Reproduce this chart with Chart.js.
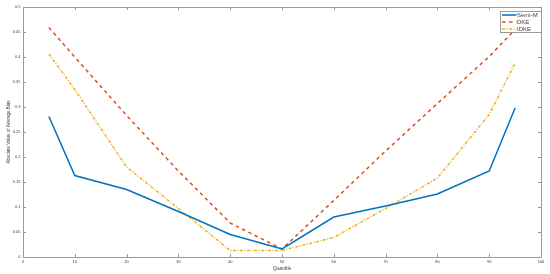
<!DOCTYPE html>
<html>
<head>
<meta charset="utf-8">
<script src="https://cdn.jsdelivr.net/npm/chart.js@4"></script>
<style>
html,body{margin:0;padding:0;background:#fff;}
#wrap{width:550px;height:274px;position:relative;}
</style>
</head>
<body>
<div id="wrap"><canvas id="c" width="550" height="274"></canvas></div>
<script>
const quantiles = [5, 10, 20, 30, 40, 50, 60, 70, 80, 90, 95];
const semiM = [0.281, 0.163, 0.135, 0.091, 0.045, 0.016, 0.080, 0.102, 0.126, 0.172, 0.298];
const dke   = [0.459, 0.400, 0.283, 0.172, 0.068, 0.016, 0.113, 0.212, 0.307, 0.401, 0.455];
const idke  = [0.406, 0.335, 0.180, 0.097, 0.013, 0.013, 0.039, 0.097, 0.158, 0.285, 0.388];
const seriesNames = ['Semi-M', 'DKE', 'IDKE'];
const xTickValues = [0, 10, 20, 30, 40, 50, 60, 70, 80, 90, 100];
const yTickValues = [0, 0.05, 0.1, 0.15, 0.2, 0.25, 0.3, 0.35, 0.4, 0.45, 0.5];

const FONT = 'Liberation Sans, Arial, sans-serif';
const TEXT = '#404040';
const FRAME = '#9a9a9a';

function pts(arr){ return quantiles.map((q,i)=>({x:q, y:arr[i]})); }

const framePlugin = {
  id: 'frame',
  afterDatasetsDraw(chart){
    const {ctx, chartArea:a, scales:{x, y}} = chart;
    ctx.save();
    ctx.strokeStyle = FRAME;
    ctx.lineWidth = 1;
    ctx.beginPath();
    ctx.rect(Math.round(a.left)+0.5, Math.round(a.top)+0.5, Math.round(a.right-a.left), Math.round(a.bottom-a.top));
    ctx.stroke();
    const tl = 3;
    ctx.beginPath();
    xTickValues.forEach(v=>{
      const px = Math.round(x.getPixelForValue(v))+0.5;
      ctx.moveTo(px, a.bottom); ctx.lineTo(px, a.bottom-tl);
      ctx.moveTo(px, a.top); ctx.lineTo(px, a.top+tl);
    });
    yTickValues.forEach(v=>{
      const py = Math.round(y.getPixelForValue(v))+0.5;
      ctx.moveTo(a.left, py); ctx.lineTo(a.left+tl, py);
      ctx.moveTo(a.right, py); ctx.lineTo(a.right-tl, py);
    });
    ctx.stroke();
    ctx.restore();
  },
  afterDraw(chart){
    const {ctx, chartArea:a} = chart;
    const w = 41, h = 21;
    const x0 = Math.round(a.right - w) + 0.5, y0 = Math.round(a.top + 4) + 0.5;
    ctx.save();
    ctx.fillStyle = '#fff';
    ctx.fillRect(x0, y0, w, h);
    ctx.strokeStyle = FRAME;
    ctx.lineWidth = 1;
    ctx.strokeRect(x0, y0, w, h);
    ctx.font = '6px ' + FONT;
    ctx.textBaseline = 'middle';
    chart.data.datasets.forEach((ds, i)=>{
      const cy = y0 + 3.5 + i*7;
      ctx.strokeStyle = ds.borderColor;
      ctx.lineWidth = ds.borderWidth;
      ctx.setLineDash(ds.borderDash || []);
      ctx.beginPath();
      ctx.moveTo(x0+1.5, cy); ctx.lineTo(x0+16, cy);
      ctx.stroke();
      ctx.setLineDash([]);
      ctx.fillStyle = TEXT;
      ctx.fillText(ds.label, x0+16.5, cy);
    });
    ctx.restore();
  }
};

new Chart(document.getElementById('c'), {
  type: 'line',
  data: {
    datasets: [
      {label: seriesNames[0], data: pts(semiM), borderColor: '#0072BD', borderWidth: 1.5, pointRadius: 0, tension: 0, fill: false},
      {label: seriesNames[1], data: pts(dke), borderColor: '#D95319', borderWidth: 1.5, borderDash: [3.5, 3.5], pointRadius: 0, tension: 0, fill: false},
      {label: seriesNames[2], data: pts(idke), borderColor: '#EDB120', borderWidth: 1.5, borderDash: [3, 1.5, 1, 1.5], pointRadius: 0, tension: 0, fill: false}
    ]
  },
  plugins: [framePlugin],
  options: {
    responsive: false,
    animation: false,
    devicePixelRatio: 1,
    layout: {padding: {top: 7, right: 9, left: 0, bottom: 0}},
    plugins: {legend: {display: false}, tooltip: {enabled: false}},
    scales: {
      x: {
        type: 'linear', min: 0, max: 100,
        afterBuildTicks: s => { s.ticks = xTickValues.map(v=>({value:v})); },
        afterFit: s => { s.height = 17; },
        grid: {display: false, drawTicks: false},
        border: {display: false},
        ticks: {font: {size: 4, family: FONT}, color: TEXT, padding: 2, maxRotation: 0, autoSkip: false},
        title: {display: true, text: 'Quantile', font: {size: 5, family: FONT}, color: TEXT, padding: {top: 0, bottom: 2}}
      },
      y: {
        type: 'linear', min: 0, max: 0.5,
        afterBuildTicks: s => { s.ticks = yTickValues.map(v=>({value:v})); },
        afterFit: s => { s.width = 23; },
        grid: {display: false, drawTicks: false},
        border: {display: false},
        ticks: {font: {size: 4, family: FONT}, color: TEXT, padding: 2.5, autoSkip: false,
                callback: v => String(+Number(v).toFixed(2))},
        title: {display: true, text: 'Absolute Value of Average Bias', font: {size: 4.5, family: FONT}, color: TEXT, padding: {top: 6.5, bottom: 0}}
      }
    }
  }
});
</script>
</body>
</html>
